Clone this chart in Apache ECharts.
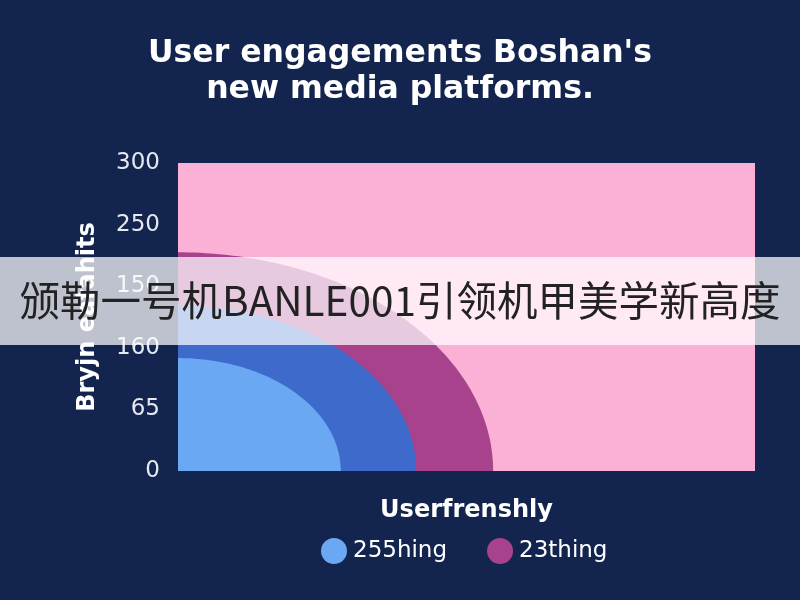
<!DOCTYPE html>
<html><head><meta charset="utf-8">
<script src="https://cdn.jsdelivr.net/npm/echarts@6/dist/echarts.min.js"></script>
<style>html,body{margin:0;padding:0;background:#13254f}#c{width:800px;height:600px}</style>
</head><body><div id="c"></div>
<script>
const titleText = "User engagements Boshan's\nnew media platforms.";
const yAxisName = "Bryjn eafahits";
const xAxisName = "Userfrenshly";
const yTickLabels = ["0", "65", "160", "150", "250", "300"];
const seriesNames = ["23thing", "ring", "255hing"];
const seriesRadius = [213, 161, 110];
const seriesColors = ["#a8428c", "#3e6bcb", "#6aa8f4"];
const legendNames = ["255hing", "23thing"];
const bannerText = "颁勒一号机BANLE001引领机甲美学新高度";

const chart = echarts.init(document.getElementById('c'));
function quarter(params, api) {
  const r = api.value(0);
  const pts = [api.coord([0, 0])];
  for (let i = 0; i <= 90; i++) {
    const t = i * Math.PI / 180;
    pts.push(api.coord([r * Math.cos(t), r * Math.sin(t)]));
  }
  return { type: 'polygon', shape: { points: pts }, style: { fill: api.visual('color') } };
}
const series = seriesNames.map((n, i) => ({
  type: 'custom', name: n, renderItem: quarter, clip: true,
  itemStyle: { color: seriesColors[i] },
  data: [[seriesRadius[i]]], encode: { x: -1, y: -1 }
}));
chart.setOption({
  backgroundColor: '#13254f',
  animation: false,
  title: {
    text: titleText, left: 'center', top: 31,
    textStyle: { color: '#ffffff', fontSize: 31.5, fontWeight: 'bold', fontFamily: 'DejaVu Sans', lineHeight: 36 }
  },
  grid: { left: 178, right: 45, top: 163, bottom: 129, show: true, backgroundColor: '#fbb0d6', borderWidth: 0 },
  xAxis: {
    type: 'value', min: 0, max: 390, show: true,
    axisLine: { show: false }, axisTick: { show: false }, axisLabel: { show: false }, splitLine: { show: false },
    name: xAxisName, nameLocation: 'middle', nameGap: 28,
    nameTextStyle: { color: '#ffffff', fontSize: 24, fontWeight: 'bold', fontFamily: 'DejaVu Sans' }
  },
  yAxis: {
    type: 'value', min: 0, max: 300, interval: 60,
    axisLine: { show: false }, axisTick: { show: false }, splitLine: { show: false },
    axisLabel: { color: '#e6e8f0', fontSize: 23, fontFamily: 'DejaVu Sans', margin: 18,
      formatter: v => yTickLabels[Math.round(v / 60)] },
    name: yAxisName, nameLocation: 'middle', nameGap: 78, nameRotate: 90,
    nameTextStyle: { color: '#ffffff', fontSize: 24, fontWeight: 'bold', fontFamily: 'DejaVu Sans' }
  },
  legend: {
    data: legendNames, top: 533, left: 316, icon: 'circle', itemWidth: 28, itemHeight: 26, itemGap: 40,
    textStyle: { color: '#ffffff', fontSize: 23, fontFamily: 'DejaVu Sans' }
  },
  series: series,
  graphic: [
    { type: 'rect', z: 100, shape: { x: 0, y: 257, width: 800, height: 88 }, style: { fill: 'rgba(255,255,255,0.72)' } },
    { type: 'text', z: 101, x: 400, y: 301, style: { text: bannerText, fill: '#222222', fontSize: 40.5,
      fontFamily: 'Noto Sans CJK SC', align: 'center', verticalAlign: 'middle' } }
  ]
});
</script></body></html>
